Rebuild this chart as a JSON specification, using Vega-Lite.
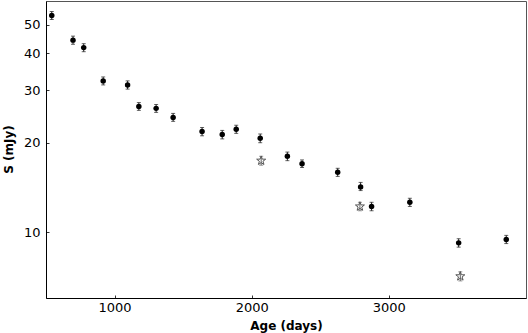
{
  "$schema": "https://vega.github.io/schema/vega-lite/v6.json",
  "width": 480,
  "height": 297,
  "autosize": {"type": "none"},
  "padding": {"left": 46, "top": 1, "right": 1, "bottom": 35},
  "background": "white",
  "config": {
    "view": {"stroke": "#555", "strokeWidth": 1},
    "font": "DejaVu Sans",
    "axis": {
      "labelFont": "DejaVu Sans", "labelFontSize": 13, "labelColor": "black",
      "titleFont": "DejaVu Sans", "titleFontSize": 12, "titleFontWeight": "bold", "titleColor": "black",
      "grid": false, "domainColor": "black", "tickColor": "#333", "tickSize": -3
    }
  },
  "data": {"values": [
    {"age": 542, "s": 53.6, "lo": 52.0, "hi": 55.3, "kind": "dot"},
    {"age": 697, "s": 44.3, "lo": 42.9, "hi": 45.7, "kind": "dot"},
    {"age": 775, "s": 41.8, "lo": 40.5, "hi": 43.1, "kind": "dot"},
    {"age": 917, "s": 32.3, "lo": 31.3, "hi": 33.3, "kind": "dot"},
    {"age": 1095, "s": 31.3, "lo": 30.3, "hi": 32.3, "kind": "dot"},
    {"age": 1177, "s": 26.5, "lo": 25.7, "hi": 27.3, "kind": "dot"},
    {"age": 1303, "s": 26.1, "lo": 25.3, "hi": 26.9, "kind": "dot"},
    {"age": 1427, "s": 24.3, "lo": 23.6, "hi": 25.1, "kind": "dot"},
    {"age": 1638, "s": 21.8, "lo": 21.1, "hi": 22.5, "kind": "dot"},
    {"age": 1785, "s": 21.3, "lo": 20.6, "hi": 22.0, "kind": "dot"},
    {"age": 1887, "s": 22.2, "lo": 21.5, "hi": 22.9, "kind": "dot"},
    {"age": 2062, "s": 20.7, "lo": 20.0, "hi": 21.4, "kind": "dot"},
    {"age": 2069, "s": 17.4, "lo": 16.8, "hi": 18.0, "kind": "star"},
    {"age": 2260, "s": 18.0, "lo": 17.4, "hi": 18.6, "kind": "dot"},
    {"age": 2367, "s": 17.0, "lo": 16.5, "hi": 17.5, "kind": "dot"},
    {"age": 2627, "s": 15.9, "lo": 15.4, "hi": 16.4, "kind": "dot"},
    {"age": 2794, "s": 14.2, "lo": 13.8, "hi": 14.7, "kind": "dot"},
    {"age": 2789, "s": 12.2, "lo": 11.8, "hi": 12.6, "kind": "star"},
    {"age": 2874, "s": 12.2, "lo": 11.8, "hi": 12.6, "kind": "dot"},
    {"age": 3153, "s": 12.6, "lo": 12.2, "hi": 13.0, "kind": "dot"},
    {"age": 3509, "s": 9.2, "lo": 8.9, "hi": 9.5, "kind": "dot"},
    {"age": 3521, "s": 7.1, "lo": 6.85, "hi": 7.35, "kind": "star"},
    {"age": 3856, "s": 9.45, "lo": 9.15, "hi": 9.75, "kind": "dot"}
  ]},
  "encoding": {
    "x": {"field": "age", "type": "quantitative",
      "scale": {"domain": [500, 4000], "nice": false, "zero": false},
      "axis": {"orient": "bottom", "title": "Age (days)", "values": [1000, 2000, 3000], "format": "d", "labelPadding": 6,
        "titleX": 240, "titleY": 27, "titleBaseline": "middle", "titleAnchor": "middle"}
    }
  },
  "layer": [
    {
      "transform": [{"filter": "datum.kind === 'dot'"}],
      "mark": {"type": "errorbar", "ticks": {"size": 4, "color": "#222"}, "rule": {"color": "#222"}, "thickness": 1},
      "encoding": {
        "y": {"field": "lo", "type": "quantitative", "title": "S (mJy)",
          "scale": {"type": "log", "domain": [6, 60], "nice": false},
          "axis": {"orient": "left", "title": "S (mJy)", "values": [10, 20, 30, 40, 50], "format": "d", "labelPadding": 9,
            "titleX": -38, "titleY": 148, "titleAngle": 270, "titleBaseline": "middle", "titleAnchor": "middle"}
        },
        "y2": {"field": "hi"}
      }
    },
    {
      "transform": [{"filter": "datum.kind === 'star'"}],
      "mark": {"type": "errorbar", "ticks": {"size": 4, "color": "#666"}, "rule": {"color": "#666"}, "thickness": 1},
      "encoding": {
        "y": {"field": "lo", "type": "quantitative", "title": "S (mJy)"},
        "y2": {"field": "hi"}
      }
    },
    {
      "transform": [{"filter": "datum.kind === 'dot'"}],
      "mark": {"type": "point", "shape": "circle", "filled": true, "color": "black", "size": 30, "opacity": 1},
      "encoding": {"y": {"field": "s", "type": "quantitative", "title": "S (mJy)"}}
    },
    {
      "transform": [{"filter": "datum.kind === 'star'"}],
      "mark": {"type": "point", "shape": "M0,-1L0.235,-0.324L0.951,-0.309L0.38,0.124L0.588,0.809L0,0.4L-0.588,0.809L-0.38,0.124L-0.951,-0.309L-0.235,-0.324Z", "filled": false, "color": "#555", "strokeWidth": 1, "size": 90, "opacity": 1},
      "encoding": {"y": {"field": "s", "type": "quantitative", "title": "S (mJy)"}}
    }
  ]
}
